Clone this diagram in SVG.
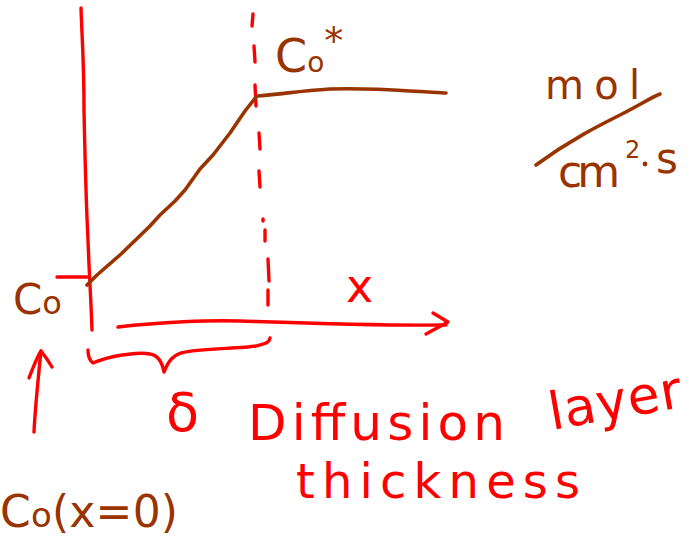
<svg xmlns="http://www.w3.org/2000/svg" width="690" height="542" viewBox="0 0 690 542">
<style>
.r{fill:none;stroke:#ff0000;stroke-width:3.4;stroke-linecap:round;stroke-linejoin:round}
.b{fill:none;stroke:#993300;stroke-width:3.6;stroke-linecap:round;stroke-linejoin:round}
.tr{fill:#ff0000;font-family:"DejaVu Sans","Liberation Sans",sans-serif}
.tb{fill:#993300;font-family:"DejaVu Sans","Liberation Sans",sans-serif}
</style>
<rect width="690" height="542" fill="#ffffff"/>
<g id="axes">
<path class="r" d="M81,8 C82,40 84,60 84,110 C85,160 86,200 88,240 C89,270 91,300 92,330"/>
<path class="r" d="M118,327 C160,322 210,320 240,321 C300,323 380,326 446,325"/>
<path class="r" d="M433,313 L448,322 L426,334"/>
<path class="r" d="M57,277 L87,277"/>
</g>
<g id="dashed-boundary">
<path class="r" d="M253,14 L252,26 M254,46 L255,62 M255,85 L256,106 M259,133 L260,149 M259,171 L260,187 M263,219 L263,221 M265,230 L265,241 M268,259 L269,281 M268,290 L268,305"/>
</g>
<g id="concentration-profile">
<path class="b" d="M87,285 L97,275 L120,255 L150,226 L160,215 L175,201 L185,190 L200,169 L213,155 L230,133 L245,111 L256,97"/>
<path class="b" d="M258,96 C290,93 300,91 330,89 C360,88 380,89 410,91 C430,92 440,93 446,93"/>
</g>
<g id="brace">
<path class="r" d="M270,338 C269,344 262,344 256,346 C240,349 200,348 181,353 C172,356 168,362 164,372 C162,362 158,355 150,354 C140,352 132,354 122,355 C110,357 100,360 93,363 C89,360 88,355 88,350"/>
</g>
<g id="surface-arrow">
<path class="r" d="M34,432 C35,410 38,380 41,351"/>
<path class="r" d="M29,378 C34,365 38,355 41,351 C45,356 49,362 52,367"/>
</g>
<g id="labels">
<text class="tb" x="13" y="314" font-size="42">C<tspan font-size="32">o</tspan></text>
<text class="tb" x="275" y="72" font-size="46">C<tspan font-size="28">o</tspan><tspan font-size="38" dy="-18">*</tspan></text>
<text class="tr" x="346" y="302" font-size="46">x</text>
<text class="tr" x="166" y="431" font-size="54">δ</text>
<text class="tr" x="248" y="440" font-size="50" textLength="257" lengthAdjust="spacing">Diffusion</text>
<text class="tr" x="552" y="430" font-size="52" textLength="134" lengthAdjust="spacing" transform="rotate(-10 552 430)">layer</text>
<text class="tr" x="296" y="498" font-size="48" textLength="284" lengthAdjust="spacing">thickness</text>
<text class="tb" x="0" y="527" font-size="44" textLength="178" lengthAdjust="spacing">C<tspan font-size="34">o</tspan>(x=0)</text>
<text class="tb" x="545" y="99" font-size="40" textLength="95" lengthAdjust="spacing">mol</text>
<path class="b" d="M536,165 C570,140 600,125 620,115 C640,105 650,98 660,94"/>
<text class="tb" x="558" y="187" font-size="44" textLength="62" lengthAdjust="spacing">cm</text>
<text class="tb" x="625" y="158" font-size="24">2</text>
<circle cx="645" cy="164" r="2.4" fill="#993300"/>
<text class="tb" x="656" y="173" font-size="42">s</text>
</g>
</svg>
